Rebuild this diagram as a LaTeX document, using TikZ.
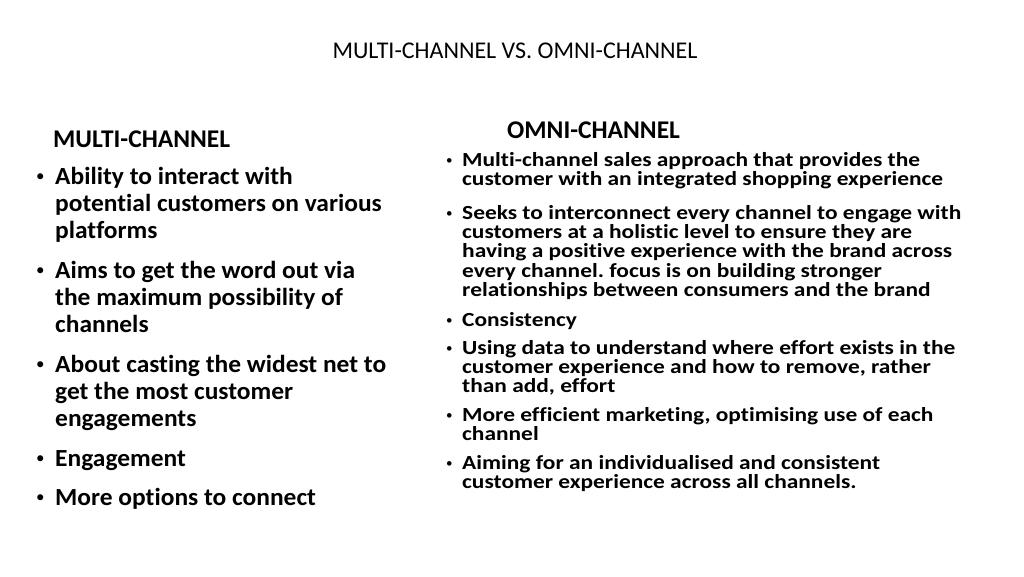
\documentclass[tikz,border=0pt]{standalone}
\usepackage{fontspec}
\setmainfont{Carlito}[Ligatures=NoCommon]
\newfontfamily\multifamily{Carlito}[Ligatures=NoCommon, FakeStretch=1.035]
\newfontfamily\omnifamily{Carlito}[Ligatures=NoCommon, FakeStretch=1.17]
\frenchspacing
\newcommand{\titlefont}{\fontsize{24}{28}\selectfont}
\newcommand{\headfont}{\bfseries\fontsize{25.5}{28}\selectfont}
\newcommand{\multifont}{\multifamily\bfseries\fontsize{24.6}{27.3}\selectfont}
\newcommand{\omnifont}{\omnifamily\bfseries\fontsize{20}{19.4}\selectfont}
\newcommand{\multidot}{\raisebox{3pt}{\fontsize{17}{17}\selectfont\textbullet}}
\newcommand{\omnidot}{\raisebox{2pt}{\fontsize{13}{13}\selectfont\textbullet}}
\tikzset{
	head/.style={anchor=base west, inner sep=0pt, font=\headfont},
	mtext/.style={anchor=base west, inner sep=0pt, text width=380pt, align=flush left, font=\multifont},
	otext/.style={anchor=base west, inner sep=0pt, text width=540pt, align=flush left, font=\omnifont},
	bullet/.style={anchor=base west, inner sep=0pt}
}
\begin{document}
\begin{tikzpicture}[x=1pt, y=-1pt]
		% page
		\useasboundingbox[fill=white] (0,0) rectangle (1024,576);
		% title
		\node[anchor=base, inner sep=0pt, font=\titlefont] (title) at (515,58) {MULTI-CHANNEL VS. OMNI-CHANNEL};
		% left column
		\node[head] (multihead) at (53,147) {MULTI-CHANNEL};
		\node[bullet] (mb1) at (36,184) {\multidot};
		\node[mtext] (m1) at (55,184) {Ability to interact with\\potential customers on various\\platforms};
		\node[bullet] (mb2) at (36,278) {\multidot};
		\node[mtext] (m2) at (55,278) {Aims to get the word out via\\the maximum possibility of\\channels};
		\node[bullet] (mb3) at (36,372) {\multidot};
		\node[mtext] (m3) at (55,372) {About casting the widest net to\\get the most customer\\engagements};
		\node[bullet] (mb4) at (36,466) {\multidot};
		\node[mtext] (m4) at (55,466) {Engagement};
		\node[bullet] (mb5) at (36,505) {\multidot};
		\node[mtext] (m5) at (55,505) {More options to connect};
		% right column
		\node[head] (omnihead) at (507,138) {OMNI-CHANNEL};
		\node[bullet] (ob1) at (446,166) {\omnidot};
		\node[otext] (o1) at (462,166) {Multi-channel sales approach that provides the\\customer with an integrated shopping experience};
		\node[bullet] (ob2) at (446,219) {\omnidot};
		\node[otext] (o2) at (462,219) {Seeks to interconnect every channel to engage with\\customers at a holistic level to ensure they are\\having a positive experience with the brand across\\every channel. focus is on building stronger\\relationships between consumers and the brand};
		\node[bullet] (ob3) at (446,326) {\omnidot};
		\node[otext] (o3) at (462,326) {Consistency};
		\node[bullet] (ob4) at (446,354) {\omnidot};
		\node[otext] (o4) at (462,354) {Using data to understand where effort exists in the\\customer experience and how to remove, rather\\than add, effort};
		\node[bullet] (ob5) at (446,421) {\omnidot};
		\node[otext] (o5) at (462,421) {More efficient marketing, optimising use of each\\channel};
		\node[bullet] (ob6) at (446,469) {\omnidot};
		\node[otext] (o6) at (462,469) {Aiming for an individualised and consistent\\customer experience across all channels.};
\end{tikzpicture}
\end{document}
